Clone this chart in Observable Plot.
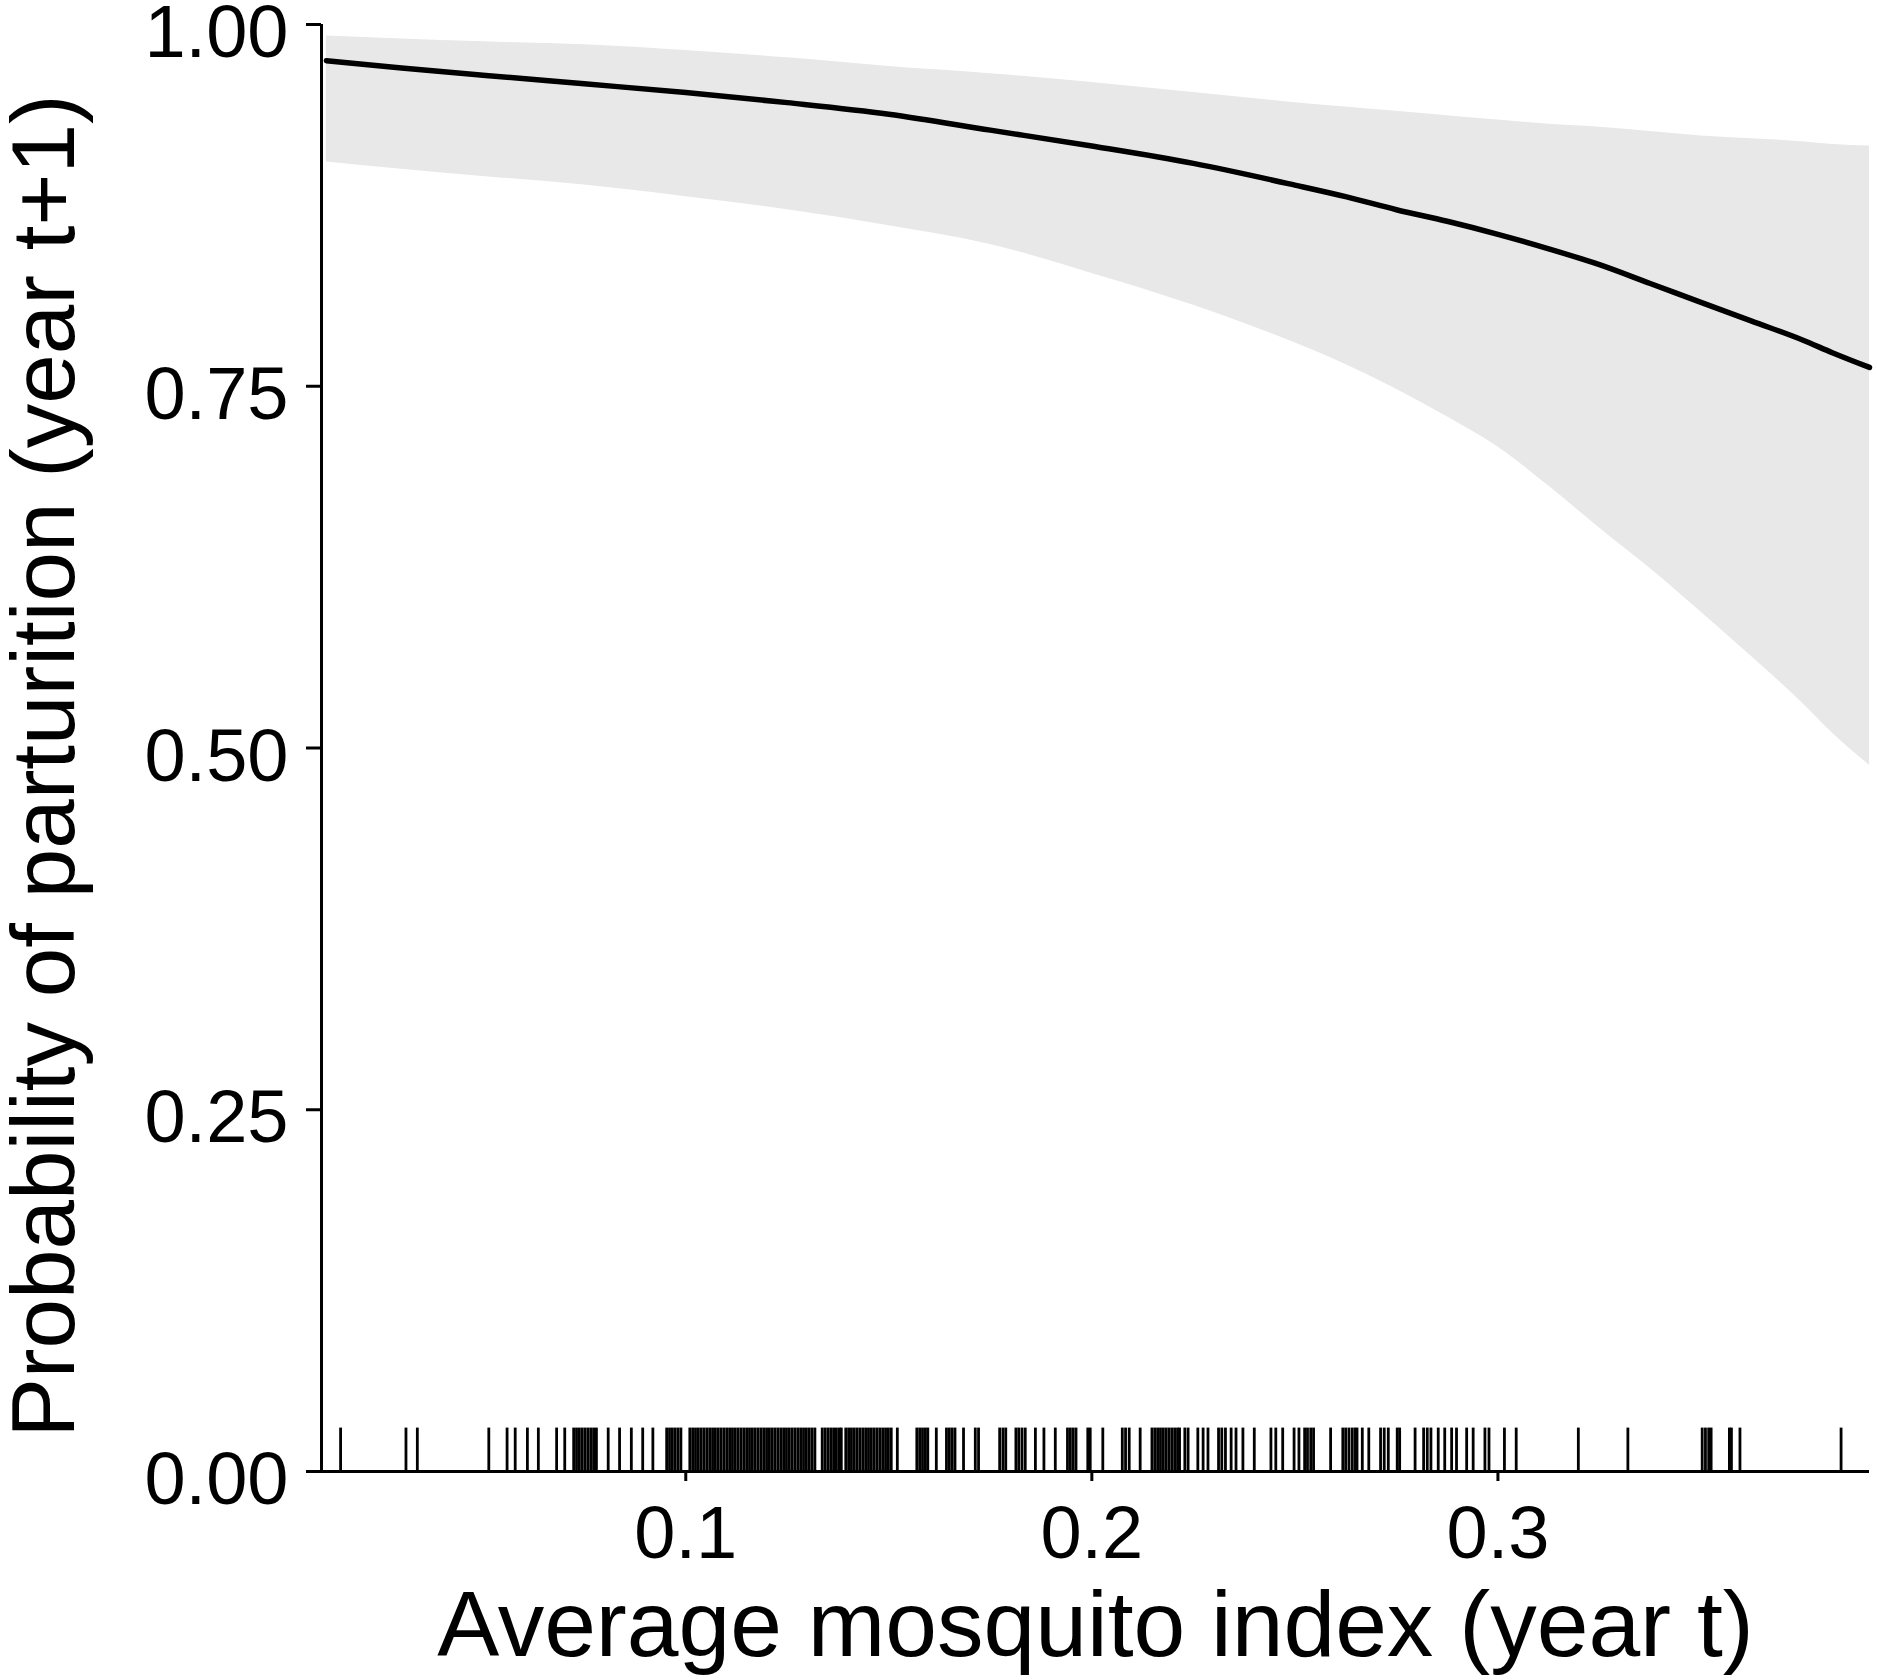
<!DOCTYPE html>
<html>
<head>
<meta charset="utf-8">
<script src="https://cdn.jsdelivr.net/npm/d3@7"></script>
<script src="https://cdn.jsdelivr.net/npm/@observablehq/plot@0.6"></script>
<style>
  html, body { margin: 0; padding: 0; background: white; }
  #chart svg { display: block; }
</style>
</head>
<body>
<div id="chart"></div>
<script>
// Predicted curve and 95% band
const xGrid = [0.0115, 0.03, 0.05, 0.075, 0.1, 0.125, 0.15, 0.175, 0.2, 0.225, 0.25, 0.2625, 0.275, 0.2875, 0.3, 0.3125, 0.325, 0.3375, 0.35, 0.3625, 0.375, 0.3825, 0.3915];
const fitY  = [0.975, 0.970, 0.965, 0.959, 0.953, 0.946, 0.938, 0.927, 0.916, 0.904, 0.889, 0.881, 0.872, 0.864, 0.855, 0.845, 0.834, 0.821, 0.808, 0.795, 0.782, 0.773, 0.763];
const loY   = [0.905, 0.900, 0.895, 0.889, 0.881, 0.872, 0.861, 0.848, 0.828, 0.806, 0.780, 0.765, 0.748, 0.729, 0.708, 0.681, 0.652, 0.624, 0.594, 0.563, 0.531, 0.510, 0.488];
const hiY   = [0.992, 0.990, 0.988, 0.986, 0.982, 0.977, 0.971, 0.966, 0.960, 0.953, 0.946, 0.943, 0.940, 0.937, 0.934, 0.931, 0.929, 0.926, 0.923, 0.921, 0.919, 0.917, 0.916];

// Observed mosquito index values (rug)
const rugX = [
  0.0150, 0.0311, 0.0339, 0.0515, 0.0560, 0.0580, 0.0610, 0.0637, 0.0682, 0.0702,
  0.0724, 0.0731, 0.0738, 0.0745, 0.0752, 0.0759, 0.0766, 0.0773, 0.0780,
  0.0809, 0.0837, 0.0866, 0.0894, 0.0919,
  0.0953, 0.0960, 0.0967, 0.0974, 0.0981, 0.0988,
  0.1010, 0.1017, 0.1024, 0.1031, 0.1038, 0.1045, 0.1052, 0.1059, 0.1066, 0.1073,
  0.1080, 0.1087, 0.1094, 0.1101, 0.1108, 0.1115, 0.1122, 0.1129, 0.1136, 0.1143,
  0.1150, 0.1157, 0.1164, 0.1171, 0.1178, 0.1185, 0.1192, 0.1199, 0.1206, 0.1213,
  0.1220, 0.1227, 0.1234, 0.1241, 0.1248, 0.1255, 0.1262, 0.1269, 0.1276, 0.1283,
  0.1290, 0.1297, 0.1304, 0.1311, 0.1318,
  0.1336, 0.1343, 0.1350, 0.1357, 0.1364, 0.1371, 0.1378, 0.1383,
  0.1394, 0.1401, 0.1408, 0.1415, 0.1422, 0.1429, 0.1436, 0.1443, 0.1450, 0.1457,
  0.1464, 0.1471, 0.1478, 0.1485, 0.1492, 0.1499, 0.1506,
  0.1521, 0.1569, 0.1576, 0.1583, 0.1590, 0.1596, 0.1617,
  0.1642, 0.1649, 0.1656, 0.1663, 0.1684, 0.1713, 0.1721,
  0.1773, 0.1781, 0.1788, 0.1813, 0.1820, 0.1828, 0.1836, 0.1861, 0.1882, 0.1910,
  0.1940, 0.1947, 0.1954, 0.1961, 0.1990, 0.1996, 0.2027, 0.2075, 0.2083, 0.2092, 0.2119,
  0.2148, 0.2155, 0.2162, 0.2169, 0.2176, 0.2183, 0.2190, 0.2197, 0.2204, 0.2211, 0.2216,
  0.2229, 0.2237, 0.2261, 0.2274, 0.2286, 0.2312, 0.2320, 0.2329, 0.2343, 0.2355, 0.2372,
  0.2400, 0.2441, 0.2453, 0.2470, 0.2498, 0.2510, 0.2524, 0.2531, 0.2539, 0.2546, 0.2588,
  0.2618, 0.2625, 0.2633, 0.2641, 0.2648, 0.2653, 0.2666, 0.2682, 0.2711, 0.2720, 0.2730,
  0.2752, 0.2758, 0.2796, 0.2817, 0.2826, 0.2835, 0.2853, 0.2869, 0.2886, 0.2898,
  0.2923, 0.2939, 0.2968, 0.2978, 0.3016, 0.3045, 0.3198, 0.3320,
  0.3503, 0.3511, 0.3519, 0.3525, 0.3570, 0.3575, 0.3596, 0.3845
];

const yTicks = [0, 0.25, 0.5, 0.75, 1];
const xTicks = [0.1, 0.2, 0.3];
const xDomain = [0.0103, 0.3915];
const xTitle = "Average mosquito index (year t)";
const yTitle = "Probability of parturition (year t+1)";

const curve = xGrid.map((x, i) => ({x, fit: fitY[i], lo: loY[i], hi: hiY[i]}));

const chart = Plot.plot({
  width: 1878,
  height: 1680,
  marginLeft: 321,
  marginRight: 9,
  marginTop: 24,
  marginBottom: 209,
  style: {fontFamily: "'Liberation Sans', Arial, sans-serif", background: "white", color: "black"},
  x: {domain: xDomain},
  y: {domain: [0, 1]},
  marks: [
    Plot.areaY(curve, {x: "x", y1: "lo", y2: "hi", fill: "#e8e8e8", curve: "monotone-x"}),
    Plot.line(curve, {x: "x", y: "fit", stroke: "black", strokeWidth: 5.5, curve: "monotone-x"}),
    Plot.ruleX(rugX, {x: d => d, y1: 0, y2: 0.03, stroke: "black", strokeWidth: 2.8}),
    Plot.ruleX([xDomain[0]], {y1: 0, y2: 1, stroke: "black", strokeWidth: 3}),
    Plot.ruleY([0], {x1: xDomain[0], x2: xDomain[1], stroke: "black", strokeWidth: 3}),
    // y ticks (marks) and labels (slightly lowered, as in the reference)
    Plot.axisY({ticks: yTicks, tickSize: 15, strokeWidth: 3, text: null, label: null}),
    Plot.axisY({ticks: yTicks, tickFormat: d3.format(".2f"), tickSize: 0, tickPadding: 33,
      fontSize: 74, dy: 9, label: null}),
    Plot.axisX({ticks: xTicks, tickFormat: d3.format(".1f"), tickSize: 10, tickPadding: 24,
      fontSize: 74, strokeWidth: 3, label: null}),
    Plot.text([xTitle], {frameAnchor: "bottom", dy: 155, lineAnchor: "middle", textAnchor: "middle", fontSize: 93, fill: "black"}),
    Plot.text([yTitle], {frameAnchor: "left", dx: -276, dy: 18, rotate: -90, lineAnchor: "middle", textAnchor: "middle", fontSize: 89, fill: "black"})
  ]
});
document.getElementById("chart").appendChild(chart);
</script>
</body>
</html>
